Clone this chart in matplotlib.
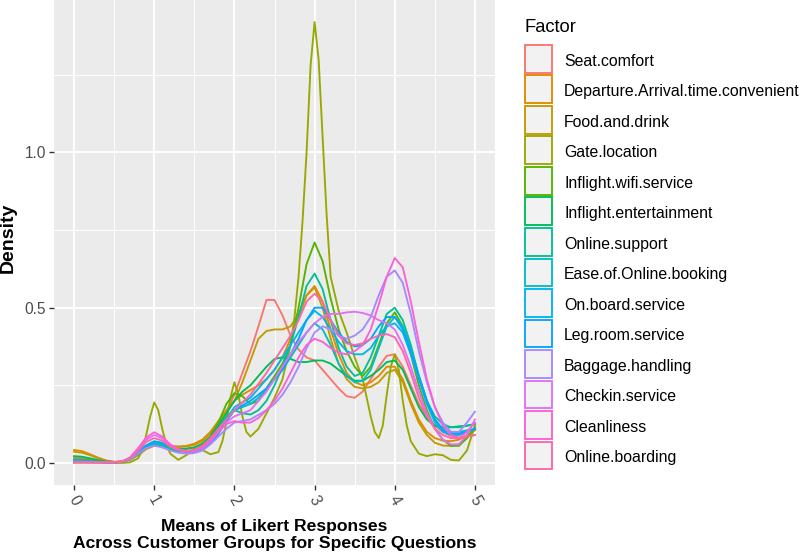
import numpy as np
import matplotlib
matplotlib.use("Agg")
import matplotlib.pyplot as plt
from matplotlib.patches import Rectangle

plt.rcParams['font.family'] = ['Liberation Sans', 'DejaVu Sans']

# Factors (legend order) and density curves
factors = ["Seat.comfort", "Departure.Arrival.time.convenient", "Food.and.drink",
           "Gate.location", "Inflight.wifi.service", "Inflight.entertainment",
           "Online.support", "Ease.of.Online.booking", "On.board.service",
           "Leg.room.service", "Baggage.handling", "Checkin.service",
           "Cleanliness", "Online.boarding"]

x_grid = [round(0.1 * i, 1) for i in range(51)]

seat_comfort = [0.017, 0.015, 0.011, 0.007, 0.004, 0.003, 0.005, 0.012, 0.03, 0.052, 0.065,
                0.06, 0.05, 0.045, 0.045, 0.05, 0.06, 0.085, 0.12, 0.165, 0.22,
                0.29, 0.36, 0.44, 0.525, 0.525, 0.475, 0.41, 0.365, 0.34, 0.33,
                0.3, 0.27, 0.24, 0.215, 0.21, 0.23, 0.27, 0.31, 0.345, 0.35,
                0.31, 0.25, 0.19, 0.15, 0.12, 0.1, 0.087, 0.082, 0.085, 0.09]
departure = [0.042, 0.038, 0.028, 0.017, 0.008, 0.004, 0.005, 0.012, 0.028, 0.045, 0.055,
             0.056, 0.054, 0.053, 0.055, 0.062, 0.075, 0.1, 0.135, 0.17, 0.2,
             0.22, 0.235, 0.25, 0.27, 0.3, 0.34, 0.4, 0.47, 0.54, 0.57,
             0.52, 0.43, 0.35, 0.29, 0.26, 0.25, 0.26, 0.28, 0.31, 0.31,
             0.27, 0.2, 0.14, 0.1, 0.08, 0.072, 0.07, 0.075, 0.09, 0.105]
food = [0.036, 0.033, 0.025, 0.015, 0.007, 0.003, 0.004, 0.01, 0.025, 0.045, 0.058,
        0.058, 0.055, 0.052, 0.053, 0.058, 0.07, 0.095, 0.13, 0.165, 0.2,
        0.26, 0.33, 0.4, 0.425, 0.43, 0.43, 0.44, 0.48, 0.54, 0.565,
        0.5, 0.4, 0.32, 0.27, 0.245, 0.24, 0.245, 0.26, 0.29, 0.3,
        0.26, 0.19, 0.13, 0.09, 0.065, 0.056, 0.055, 0.06, 0.08, 0.11]
wifi = [0.012, 0.011, 0.008, 0.005, 0.003, 0.002, 0.004, 0.012, 0.03, 0.05, 0.06,
        0.056, 0.045, 0.038, 0.037, 0.042, 0.055, 0.085, 0.13, 0.19, 0.225,
        0.215, 0.19, 0.2, 0.24, 0.28, 0.32, 0.38, 0.5, 0.64, 0.71,
        0.65, 0.53, 0.43, 0.36, 0.31, 0.28, 0.31, 0.38, 0.45, 0.485,
        0.44, 0.35, 0.25, 0.17, 0.11, 0.075, 0.055, 0.055, 0.08, 0.115]
entertainment = [0.022, 0.02, 0.015, 0.009, 0.005, 0.003, 0.004, 0.012, 0.03, 0.052, 0.064,
                 0.06, 0.052, 0.046, 0.046, 0.05, 0.062, 0.085, 0.12, 0.16, 0.2,
                 0.23, 0.25, 0.28, 0.31, 0.335, 0.34, 0.335, 0.325, 0.325, 0.33,
                 0.33, 0.32, 0.3, 0.28, 0.265, 0.265, 0.28, 0.3, 0.325, 0.33,
                 0.3, 0.24, 0.18, 0.14, 0.12, 0.115, 0.115, 0.118, 0.12, 0.125]
online_support = [0.01, 0.009, 0.007, 0.004, 0.003, 0.002, 0.004, 0.012, 0.03, 0.05, 0.06,
                  0.056, 0.046, 0.038, 0.036, 0.04, 0.05, 0.075, 0.11, 0.15, 0.17,
                  0.16, 0.156, 0.17, 0.2, 0.25, 0.31, 0.38, 0.47, 0.57, 0.61,
                  0.56, 0.46, 0.37, 0.31, 0.28, 0.29, 0.34, 0.41, 0.48, 0.5,
                  0.46, 0.38, 0.28, 0.2, 0.15, 0.125, 0.115, 0.115, 0.12, 0.125]
ease_booking = [0.008, 0.007, 0.005, 0.003, 0.002, 0.002, 0.004, 0.012, 0.03, 0.052, 0.065,
                0.06, 0.05, 0.04, 0.035, 0.036, 0.045, 0.065, 0.095, 0.135, 0.17,
                0.18, 0.19, 0.21, 0.24, 0.27, 0.3, 0.34, 0.38, 0.42, 0.45,
                0.43, 0.38, 0.32, 0.28, 0.26, 0.265, 0.3, 0.37, 0.44, 0.47,
                0.44, 0.37, 0.28, 0.2, 0.14, 0.11, 0.1, 0.1, 0.105, 0.11]
onboard = [0.006, 0.005, 0.004, 0.003, 0.002, 0.002, 0.004, 0.013, 0.032, 0.055, 0.068,
           0.063, 0.052, 0.042, 0.036, 0.037, 0.045, 0.065, 0.1, 0.14, 0.18,
           0.195, 0.21, 0.24, 0.27, 0.3, 0.34, 0.38, 0.42, 0.46, 0.49,
           0.47, 0.43, 0.39, 0.36, 0.35, 0.35, 0.37, 0.41, 0.44, 0.45,
           0.42, 0.35, 0.27, 0.19, 0.13, 0.1, 0.09, 0.09, 0.1, 0.11]
legroom = [0.005, 0.005, 0.004, 0.003, 0.002, 0.002, 0.004, 0.013, 0.033, 0.057, 0.07,
           0.065, 0.053, 0.042, 0.036, 0.036, 0.043, 0.062, 0.095, 0.135, 0.17,
           0.185, 0.2, 0.22, 0.24, 0.27, 0.3, 0.35, 0.4, 0.46, 0.5,
           0.5, 0.46, 0.42, 0.39, 0.375, 0.38, 0.4, 0.44, 0.47, 0.47,
           0.43, 0.36, 0.28, 0.2, 0.14, 0.105, 0.095, 0.095, 0.1, 0.11]
baggage = [0.004, 0.004, 0.003, 0.002, 0.002, 0.002, 0.004, 0.012, 0.03, 0.048, 0.056,
           0.05, 0.04, 0.033, 0.03, 0.032, 0.04, 0.06, 0.085, 0.11, 0.13,
           0.135, 0.14, 0.155, 0.17, 0.19, 0.22, 0.26, 0.31, 0.37, 0.42,
           0.44, 0.43, 0.41, 0.4, 0.41, 0.43, 0.47, 0.54, 0.6, 0.62,
           0.58, 0.48, 0.36, 0.26, 0.18, 0.13, 0.1, 0.1, 0.13, 0.165]
checkin = [0.003, 0.003, 0.002, 0.002, 0.002, 0.002, 0.005, 0.017, 0.045, 0.075, 0.09,
           0.08, 0.058, 0.042, 0.036, 0.038, 0.048, 0.07, 0.1, 0.13, 0.15,
           0.16, 0.17, 0.2, 0.23, 0.27, 0.31, 0.35, 0.39, 0.42, 0.45,
           0.47, 0.48, 0.48, 0.485, 0.487, 0.483, 0.475, 0.46, 0.45, 0.43,
           0.38, 0.31, 0.23, 0.16, 0.11, 0.075, 0.06, 0.06, 0.09, 0.14]
cleanliness = [0.002, 0.002, 0.002, 0.002, 0.002, 0.002, 0.005, 0.018, 0.048, 0.082, 0.099,
               0.085, 0.06, 0.045, 0.038, 0.04, 0.05, 0.07, 0.1, 0.125, 0.135,
               0.13, 0.13, 0.145, 0.17, 0.2, 0.24, 0.29, 0.34, 0.38, 0.4,
               0.39, 0.37, 0.355, 0.35, 0.36, 0.38, 0.43, 0.51, 0.6, 0.66,
               0.63, 0.52, 0.39, 0.27, 0.18, 0.12, 0.09, 0.08, 0.1, 0.13]
online_boarding = [0.002, 0.002, 0.002, 0.002, 0.002, 0.002, 0.005, 0.015, 0.04, 0.068, 0.08,
                   0.072, 0.052, 0.042, 0.038, 0.042, 0.055, 0.08, 0.11, 0.14, 0.17,
                   0.195, 0.22, 0.255, 0.29, 0.33, 0.37, 0.41, 0.46, 0.52, 0.545,
                   0.52, 0.46, 0.41, 0.385, 0.38, 0.385, 0.4, 0.41, 0.415, 0.405,
                   0.36, 0.29, 0.21, 0.15, 0.11, 0.09, 0.08, 0.08, 0.085, 0.09]

# gate location has sharp spikes, so it was read at more points
gate_x = [0, 0.2, 0.4, 0.6, 0.7, 0.8, 0.85, 0.9, 0.95, 1.0, 1.05, 1.1, 1.15, 1.2, 1.3,
          1.4, 1.5, 1.6, 1.7, 1.8, 1.85, 1.9, 1.95, 2.0, 2.05, 2.1, 2.15, 2.2, 2.3,
          2.4, 2.5, 2.6, 2.7, 2.75, 2.8, 2.85, 2.9, 2.95, 3.0, 3.05, 3.1, 3.15, 3.2,
          3.3, 3.4, 3.5, 3.6, 3.7, 3.75, 3.8, 3.85, 3.9, 3.95, 4.0, 4.05, 4.1, 4.15,
          4.2, 4.3, 4.4, 4.5, 4.6, 4.7, 4.8, 4.9, 5.0]
gate = [0.001, 0.001, 0.0, 0.0, 0.002, 0.015, 0.04, 0.09, 0.15, 0.195, 0.17, 0.11, 0.06,
        0.03, 0.01, 0.025, 0.045, 0.042, 0.028, 0.035, 0.07, 0.13, 0.21, 0.26, 0.22,
        0.15, 0.1, 0.085, 0.11, 0.16, 0.21, 0.27, 0.38, 0.47, 0.6, 0.78, 1.0, 1.28,
        1.42, 1.3, 1.05, 0.8, 0.6, 0.49, 0.42, 0.34, 0.27, 0.15, 0.1, 0.08, 0.12,
        0.22, 0.31, 0.35, 0.3, 0.2, 0.12, 0.07, 0.03, 0.022, 0.028, 0.025, 0.01,
        0.008, 0.04, 0.12]

series = [(x_grid, seat_comfort), (x_grid, departure), (x_grid, food), (gate_x, gate),
          (x_grid, wifi), (x_grid, entertainment), (x_grid, online_support),
          (x_grid, ease_booking), (x_grid, onboard), (x_grid, legroom),
          (x_grid, baggage), (x_grid, checkin), (x_grid, cleanliness),
          (x_grid, online_boarding)]


def hue_pal(n, c=100, l=65):
    # ggplot2 default discrete palette (polar LUV -> sRGB)
    hues = 15 + 360 * np.arange(n) / n
    out = []
    Y = ((l + 16) / 116) ** 3
    Xn, Yn, Zn = 0.95047, 1.0, 1.08883
    un = 4 * Xn / (Xn + 15 * Yn + 3 * Zn)
    vn = 9 * Yn / (Xn + 15 * Yn + 3 * Zn)
    for h in hues:
        u = c * np.cos(np.deg2rad(h))
        v = c * np.sin(np.deg2rad(h))
        up = u / (13 * l) + un
        vp = v / (13 * l) + vn
        X = Y * 9 * up / (4 * vp)
        Z = Y * (12 - 3 * up - 20 * vp) / (4 * vp)
        rgb = np.array([3.2404542 * X - 1.5371385 * Y - 0.4985314 * Z,
                        -0.9692660 * X + 1.8760108 * Y + 0.0415560 * Z,
                        0.0556434 * X - 0.2040259 * Y + 1.0572252 * Z])
        rgb = np.where(rgb <= 0.0031308, 12.92 * rgb, 1.055 * np.abs(rgb) ** (1 / 2.4) - 0.055)
        out.append(tuple(np.clip(rgb, 0, 1)))
    return out


colors = hue_pal(len(factors))

W, H = 800, 554
fig = plt.figure(figsize=(W / 100, H / 100), dpi=100)
ax = fig.add_axes([54 / W, 1 - 485 / H, 441 / W, 485 / H])
ax.set_facecolor('#EBEBEB')

for (xs, ys), col in zip(series, colors):
    ax.plot(xs, ys, color=col, lw=1.35, solid_joinstyle='round')

ymax = max(max(ys) for _, ys in series)
ax.set_xlim(-0.25, 5.25)
ax.set_ylim(-0.05 * ymax, 1.05 * ymax)

ax.set_xticks(range(6))
ax.set_xticklabels([str(i) for i in range(6)], rotation=-60, ha='center', va='top')
ax.set_xticks([0.5, 1.5, 2.5, 3.5, 4.5], minor=True)
ax.set_yticks([0, 0.5, 1.0])
ax.set_yticklabels(['0.0', '0.5', '1.0'])
ax.set_yticks([0.25, 0.75, 1.25], minor=True)
ax.grid(which='major', color='white', lw=1.4)
ax.grid(which='minor', color='white', lw=0.7)
ax.set_axisbelow(True)
for s in ax.spines.values():
    s.set_visible(False)
ax.tick_params(which='major', length=3.3, width=1.0, color='#333333',
               labelcolor='#4D4D4D', labelsize=11.2, pad=2.5)
ax.tick_params(which='minor', length=0)

ax.set_ylabel('Density', fontsize=14, fontweight='bold')
ax.yaxis.set_label_coords(-37 / 441, 0.51)
ax.set_xlabel('Means of Likert Responses\nAcross Customer Groups for Specific Questions',
              fontsize=12.6, fontweight='bold', labelpad=8, linespacing=1.12)

# legend drawn by hand in pixel positions
fig.text(525 / W, 1 - 32.3 / H, 'Factor', fontsize=13.2, va='baseline', ha='left')
for i, (name, col) in enumerate(zip(factors, colors)):
    top = 45 + i * 30.5
    fig.add_artist(Rectangle((524.5 / W, 1 - (top + 27.5) / H), 27.5 / W, 27.5 / H,
                             transform=fig.transFigure, facecolor='#F2F2F2',
                             edgecolor=col, lw=1.35))
    fig.text(564 / W, 1 - (top + 20.7) / H, name, fontsize=11.4, va='baseline', ha='left')

fig.savefig('out.png', dpi=100)
